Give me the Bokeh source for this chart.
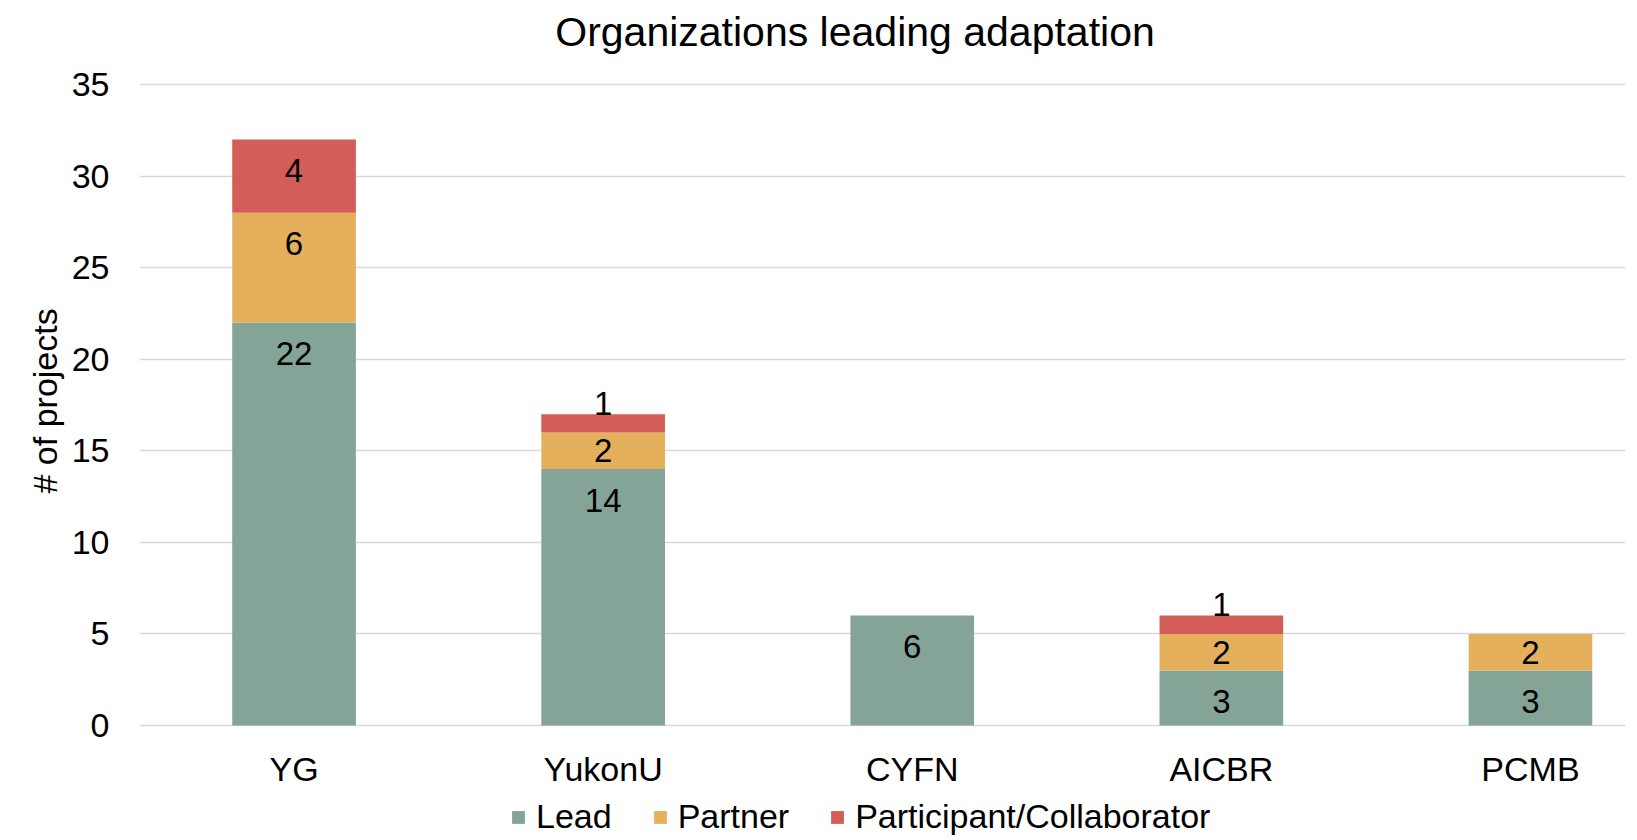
from bokeh.plotting import figure
from bokeh.models import (Range1d, FixedTicker, Legend, LegendItem, ColumnDataSource,
                          Label, Title)
from bokeh.embed import file_html
from bokeh.resources import INLINE
from bokeh.core.properties import value

# ---- data ----
categories = ["YG", "YukonU", "CYFN", "AICBR", "PCMB"]
lead = [22, 14, 6, 3, 3]
partner = [6, 2, 0, 2, 2]
participant = [4, 1, 0, 1, 0]
series_names = ["Lead", "Partner", "Participant/Collaborator"]
series_colors = ["#84A497", "#E5B05B", "#D35D59"]
y_ticks = [0, 5, 10, 15, 20, 25, 30, 35]
title_text = "Organizations leading adaptation"
y_label = "# of projects"

FONT = "Liberation Sans"

# ---- layout (pixels) ----
W, H = 1637, 840
FL, FR = 139, 1625          # plot area left / right
Y0_PX, YTOP_PX = 725, 84    # pixel rows of y=0 and y=35
YMAX = 35
ppu = (Y0_PX - YTOP_PX) / YMAX   # pixels per y unit
cat_px = 309.1                   # pixels per category slot

def px_to_y(py):
    return (Y0_PX - py) / ppu

def px_to_x(px):
    return -0.5 + (px - FL) / cat_px

xs = list(range(len(categories)))
src = ColumnDataSource(dict(x=xs, lead=lead, partner=partner, participant=participant))

p = figure(width=W, height=H, title=None,
           x_range=Range1d(px_to_x(FL), px_to_x(FR)),
           y_range=Range1d(px_to_y(H), px_to_y(0)),
           output_backend="svg", toolbar_location=None,
           min_border_left=FL, min_border_top=0,
           min_border_right=W - FR, min_border_bottom=0)
p.outline_line_color = None
p.background_fill_color = "white"
p.border_fill_color = "white"

renderers = p.vbar_stack(["lead", "partner", "participant"], x="x", width=0.4,
                         source=src, fill_color=series_colors, line_color=None)

# data labels (Excel "inside end" style)
lx, ly, lt = [], [], []
for i in xs:
    base = 0
    for vals in (lead, partner, participant):
        v = vals[i]
        if v > 0:
            top = base + v
            hpx = v * ppu
            if hpx >= 50:
                y = top - 31 / ppu
            elif hpx >= 30:
                y = base + v / 2
            else:
                y = base + 29 / ppu
            lx.append(i)
            ly.append(y)
            lt.append(str(v))
        base += v
p.text(x=lx, y=ly, text=lt, text_align="center", text_baseline="middle",
       text_font=value(FONT), text_font_size="33px", text_color="black")

# category labels under the bars
p.text(x=xs, y=[px_to_y(768.5)] * len(xs), text=categories, text_align="center",
       text_baseline="alphabetic", text_font=value(FONT), text_font_size="34px",
       text_color="black")
p.xaxis.visible = False

# y axis
p.yaxis.ticker = FixedTicker(ticks=y_ticks)
p.yaxis.axis_line_color = None
p.yaxis.major_tick_line_color = None
p.yaxis.minor_tick_line_color = None
p.yaxis.major_tick_out = 0
p.yaxis.major_label_standoff = 30
p.yaxis.major_label_text_font = FONT
p.yaxis.major_label_text_font_size = "34px"
p.yaxis.major_label_text_color = "black"

p.add_layout(Title(text=y_label, align="left", offset=H - 493, standoff=9,
                   vertical_align="bottom", text_font=FONT, text_font_size="34px",
                   text_font_style="normal", text_color="black"), "left")

p.xgrid.grid_line_color = None
p.ygrid.ticker = FixedTicker(ticks=y_ticks)
p.ygrid.grid_line_color = "#D9D9D9"
p.ygrid.grid_line_width = 1.5

# chart title
p.add_layout(Label(x=px_to_x(854.5), y=px_to_y(31), text=title_text,
                   text_align="center", text_baseline="alphabetic",
                   text_font=FONT, text_font_size="41px", text_color="black"))

# legend
items = [LegendItem(label=n, renderers=[r]) for n, r in zip(series_names, renderers)]
legend = Legend(items=items, orientation="horizontal", location=(371, 4),
                glyph_width=16, glyph_height=16, label_standoff=10, spacing=40,
                padding=0, margin=0, border_line_color=None,
                background_fill_alpha=0, label_text_font=FONT,
                label_text_font_size="34px", label_text_color="black")
p.add_layout(legend, "center")

open("out.html", "w").write(file_html(p, INLINE))
